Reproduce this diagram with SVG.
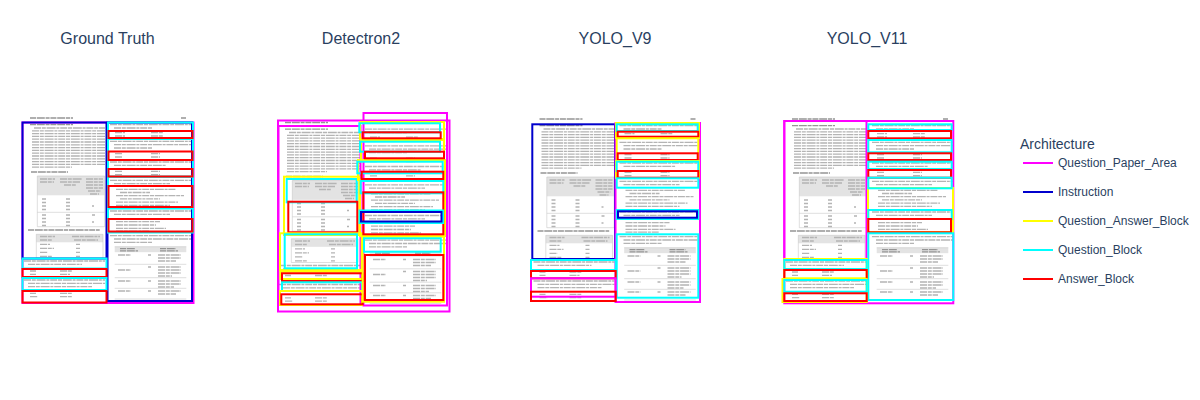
<svg xmlns="http://www.w3.org/2000/svg" xmlns:xlink="http://www.w3.org/1999/xlink" width="1200" height="400" viewBox="0 0 1200 400">
<style>
.title{font-family:"Liberation Sans",Arial,sans-serif;font-size:16px;fill:#2a3f5f;text-anchor:middle}
.leg{font-family:"Liberation Sans",Arial,sans-serif;font-size:12px;fill:#2a3f5f}
.legt{font-family:"Liberation Sans",Arial,sans-serif;font-size:14px;fill:#2a3f5f}
.tx{fill:none;stroke:#b4b4b4;stroke-width:1.3;stroke-dasharray:7 0.8 4 0.8 9 0.8 3 0.8}
.td{fill:none;stroke:#959595;stroke-width:1.3;stroke-dasharray:6 0.8 8 0.8 4 0.8}
.tl{fill:none;stroke:#c8c8c8;stroke-width:0.6}
.th{fill:#e3e3e3}
.bx{fill:none;stroke-width:2}
.m{stroke:#ff00ff}.b{stroke:#0000cd}.y{stroke:#ffff00}.c{stroke:#00ffff}.r{stroke:#ff0000}
</style>
<defs>
<g id="page">
<rect x="37.3" y="176" width="67.4" height="19.3" class="th"/>
<rect x="36.3" y="234.3" width="66.7" height="8" class="th"/>
<rect x="114.7" y="246.7" width="71.6" height="5.5" class="th"/>
<path class="tl" d="M37.3 176H104.7V226.7H37.3ZM37.3 212.3H104.7M36.3 234.3H103V258H36.3ZM114.7 246.7H186.3M114.7 264.3H186.3M114.7 277.7H186.3M114.7 288.3H186.3M114.7 299H186.3"/>
<path class="td" d="M30 118H73M181 118H186M30 124.7H73M31 172H68M28 230H99.7M120 248.6H135M160 248.6H176M120 250.8H138M160 250.8H178"/>
<path class="tx" d="M34 128H105M32 130.8H105M32 133.6H105M32 136.4H105M32 139.2H105M32 142H105M32 144.8H105M32 147.6H105M32 150.4H105M32 153.2H105M32 156H105M32 158.8H105M32 161.6H105M32 164.4H105M32 167.2H72
M40 179H55M40 182H54M60 179H82M60 182H80M64 185H76M86 179H103M86 182H103M86 185H103M86 188H103M88 191H101M90 194H99
M42 199H46M66 199H70M42 202.5H46M66 202.5H70M42 206H46M66 206H70M92 206H94M42 209.5H46M66 209.5H70
M42 215H46M66 215H70M92 215H95M42 218.5H46M66 218.5H70M42 222H46M66 222H70M92 222H94M42 225.5H46M66 225.5H70
M40 236.5H55M72 236.5H100M40 240H52M74 240H98M40 244.3H50M76 244.3H80M40 248.3H54M76 248.3H80M40 252.3H48M76 252.3H80M40 256.3H52M76 256.3H80
M24 261H105M28 264.3H82M30 271H36M60 271H72M30 274.3H36M60 274.3H70
M24 280H105M28 283.3H105M28 286.7H92M30 293.3H36M60 293.3H72M30 296.7H38M60 296.7H72
M110 124.7H191M114 128H152M115 132.7H125M151 132.7H163M115 136H125M151 136H163
M110 141.3H191M114 144.7H191M114 148H152M115 153.7H122M151 153.7H160M115 157H122M151 157H160
M110 162H191M114 165.3H166M115 171.3H122M151 171.3H160M115 174.7H122M151 174.7H160
M110 180.3H191M114 183.7H170M116 189.3H176M120 192.5H150M116 195.7H184M120 198.9H160M116 202.1H178M116 205.3H170
M110 211H191M114 214.3H170M116 221.7H160M116 225H156M116 228.3H166M116 231.2H150
M110 235.7H191M114 239H191M114 242.3H152
M118 255H131M148 255H151M158 255H181M158 258H181M158 261H176
M118 270H131M148 267H151M158 267H181M158 270H181M158 273H181M158 276H172
M118 281H131M148 281H151M158 281H181M158 284H181M158 287H174
M118 291H131M148 291H151M158 291H181M158 294H176"/>
</g>
</defs>
<rect width="1200" height="400" fill="#ffffff"/>

<g id="titles">
<text class="title" x="107.5" y="44">Ground Truth</text>
<text class="title" x="361" y="44">Detectron2</text>
<text class="title" x="615" y="44">YOLO_V9</text>
<text class="title" x="867" y="44">YOLO_V11</text>
</g>

<g id="panel-ground-truth">
<use href="#page"/>
<rect class="bx m" x="22.5" y="122.5" width="171" height="180.5"/>
<rect class="bx b" x="22.5" y="122.5" width="84" height="136"/>
<rect class="bx b" x="107.5" y="122.5" width="84.5" height="178.5"/>
<rect class="bx c" x="108" y="122.5" width="85" height="16"/>
<rect class="bx c" x="108" y="139" width="85" height="21"/>
<rect class="bx c" x="108" y="160" width="85" height="16.5"/>
<rect class="bx y" x="108" y="177" width="85" height="30.5"/>
<rect class="bx c" x="108" y="177" width="85" height="30"/>
<rect class="bx c" x="108" y="208.5" width="85" height="24"/>
<rect class="bx r" x="108.5" y="131" width="84" height="7"/>
<rect class="bx r" x="108.5" y="151.5" width="84" height="8.5"/>
<rect class="bx r" x="108.5" y="169" width="84" height="7.5"/>
<rect class="bx r" x="108.5" y="186" width="84" height="21"/>
<rect class="bx r" x="108.5" y="219" width="84" height="12.5"/>
<rect class="bx c" x="22.5" y="258.5" width="84" height="10"/>
<rect class="bx r" x="22.5" y="269" width="84" height="8"/>
<rect class="bx c" x="22.5" y="278" width="84" height="12"/>
<rect class="bx r" x="22.5" y="291" width="84" height="11.5"/>
</g>

<g id="panel-detectron2">
<use href="#page" transform="translate(255,4.5)"/>
<rect class="bx m" x="278" y="120.5" width="171.5" height="191"/>
<rect class="bx m" x="278.5" y="126" width="82" height="179"/>
<rect class="bx m" x="363.5" y="113" width="83.5" height="192.5"/>
<rect class="bx y" x="284" y="176.7" width="75.3" height="58.3"/>
<rect class="bx c" x="286.7" y="179" width="70" height="23.3"/>
<rect class="bx r" x="288.3" y="201.7" width="69" height="30.6"/>
<rect class="bx y" x="280" y="233.3" width="81.7" height="36.7"/>
<rect class="bx c" x="284.7" y="234.3" width="72.3" height="34"/>
<rect class="bx y" x="280.3" y="271.7" width="81.7" height="7.3"/>
<rect class="bx r" x="282" y="273.3" width="80.7" height="7.7"/>
<rect class="bx c" x="282" y="282.3" width="80" height="8.7"/>
<rect class="bx y" x="280" y="291" width="82" height="14"/>
<rect class="bx r" x="281.3" y="294.3" width="81.4" height="10"/>
<rect class="bx y" x="360" y="122" width="84" height="17"/>
<rect class="bx y" x="361" y="140" width="83" height="20"/>
<rect class="bx y" x="358" y="160" width="87" height="20"/>
<rect class="bx y" x="360" y="180" width="85" height="56"/>
<rect class="bx y" x="362.7" y="236.7" width="81.3" height="65"/>
<rect class="bx c" x="359.3" y="123.3" width="80.7" height="9"/>
<rect class="bx r" x="362.7" y="132.3" width="78" height="6"/>
<rect class="bx c" x="360" y="141.7" width="80" height="10"/>
<rect class="bx r" x="365" y="151.7" width="79" height="6.6"/>
<rect class="bx c" x="357.3" y="161.7" width="85.4" height="11.6"/>
<rect class="bx r" x="361.7" y="171.7" width="81.6" height="7.3"/>
<rect class="bx c" x="360.7" y="181" width="82.6" height="12.3"/>
<rect class="bx r" x="363.3" y="192.3" width="80" height="42"/>
<rect class="bx c" x="359.5" y="210.5" width="83.5" height="12.5"/>
<rect class="bx b" x="361" y="212" width="80.5" height="9.5"/>
<rect class="bx c" x="364" y="238.3" width="76.7" height="13.4"/>
<rect class="bx r" x="365" y="255" width="78.3" height="45"/>
</g>

<g id="panel-yolo-v9">
<use href="#page" transform="translate(509.5,1)"/>
<rect class="bx b" x="532.3" y="124.3" width="82.7" height="134.7"/>
<rect class="bx m" x="615.5" y="123" width="84.5" height="179"/>
<rect class="bx y" x="616" y="123" width="83" height="15"/>
<rect class="bx c" x="616.7" y="124.3" width="81" height="6.7"/>
<rect class="bx r" x="617.7" y="131.7" width="80.6" height="5"/>
<rect class="bx y" x="616.7" y="138.3" width="81.6" height="21.7"/>
<rect class="bx r" x="617.7" y="153.3" width="80" height="6.7"/>
<rect class="bx y" x="616" y="161" width="83" height="17"/>
<rect class="bx c" x="616.7" y="161.7" width="81.6" height="9.3"/>
<rect class="bx r" x="617.7" y="171" width="80.6" height="6.7"/>
<rect class="bx c" x="616.7" y="178.3" width="81.6" height="9.4"/>
<rect class="bx c" x="616.7" y="210" width="81.6" height="9"/>
<rect class="bx b" x="618" y="211.3" width="79" height="6.4"/>
<rect class="bx c" x="616.7" y="234.3" width="81.6" height="63.4"/>
<rect class="bx c" x="531" y="260" width="84.7" height="10"/>
<rect class="bx r" x="531" y="271" width="84.7" height="7.3"/>
<rect class="bx m" x="531" y="278.3" width="84.7" height="18.4"/>
<rect class="bx r" x="531" y="291.7" width="84.7" height="9.3"/>
</g>

<g id="panel-yolo-v11">
<use href="#page" transform="translate(762,1)"/>
<rect class="bx m" x="784.3" y="121" width="169" height="182.3"/>
<rect class="bx m" x="784.3" y="121" width="82.2" height="138"/>
<rect class="bx c" x="868.3" y="124.3" width="83.4" height="5.7"/>
<rect class="bx r" x="868.3" y="131" width="82.7" height="7.3"/>
<rect class="bx c" x="868.3" y="140" width="83.4" height="12.3"/>
<rect class="bx r" x="868.3" y="153.3" width="82.7" height="6.7"/>
<rect class="bx c" x="868.3" y="161.7" width="83.4" height="7.3"/>
<rect class="bx r" x="868.3" y="170" width="82.7" height="7.7"/>
<rect class="bx y" x="868" y="188" width="85" height="44"/>
<rect class="bx c" x="868.3" y="177.7" width="83.4" height="10.6"/>
<rect class="bx c" x="868.3" y="210" width="83.4" height="9"/>
<rect class="bx r" x="868.3" y="219" width="82.7" height="13.3"/>
<rect class="bx c" x="868.3" y="233.3" width="85" height="66.7"/>
<rect class="bx y" x="784.3" y="259" width="82.4" height="19.3"/>
<rect class="bx c" x="784.3" y="260" width="82.4" height="9"/>
<rect class="bx r" x="784.3" y="270" width="82.4" height="9"/>
<rect class="bx y" x="782.5" y="279" width="84.2" height="23"/>
<rect class="bx c" x="784.3" y="280" width="82.4" height="11.7"/>
<rect class="bx r" x="784.3" y="293.3" width="82.4" height="7.7"/>
</g>

<g id="legend">
<text class="legt" x="1020" y="149">Architecture</text>
<line x1="1023" y1="163" x2="1053" y2="163" stroke="#ff00ff" stroke-width="2"/>
<text class="leg" x="1058" y="167">Question_Paper_Area</text>
<line x1="1023" y1="192" x2="1053" y2="192" stroke="#0000cd" stroke-width="2"/>
<text class="leg" x="1058" y="196">Instruction</text>
<line x1="1023" y1="221" x2="1053" y2="221" stroke="#ffff00" stroke-width="2"/>
<text class="leg" x="1058" y="225">Question_Answer_Block</text>
<line x1="1023" y1="250" x2="1053" y2="250" stroke="#00ffff" stroke-width="2"/>
<text class="leg" x="1058" y="254">Question_Block</text>
<line x1="1023" y1="279" x2="1053" y2="279" stroke="#ff0000" stroke-width="2"/>
<text class="leg" x="1058" y="283">Answer_Block</text>
</g>
</svg>
